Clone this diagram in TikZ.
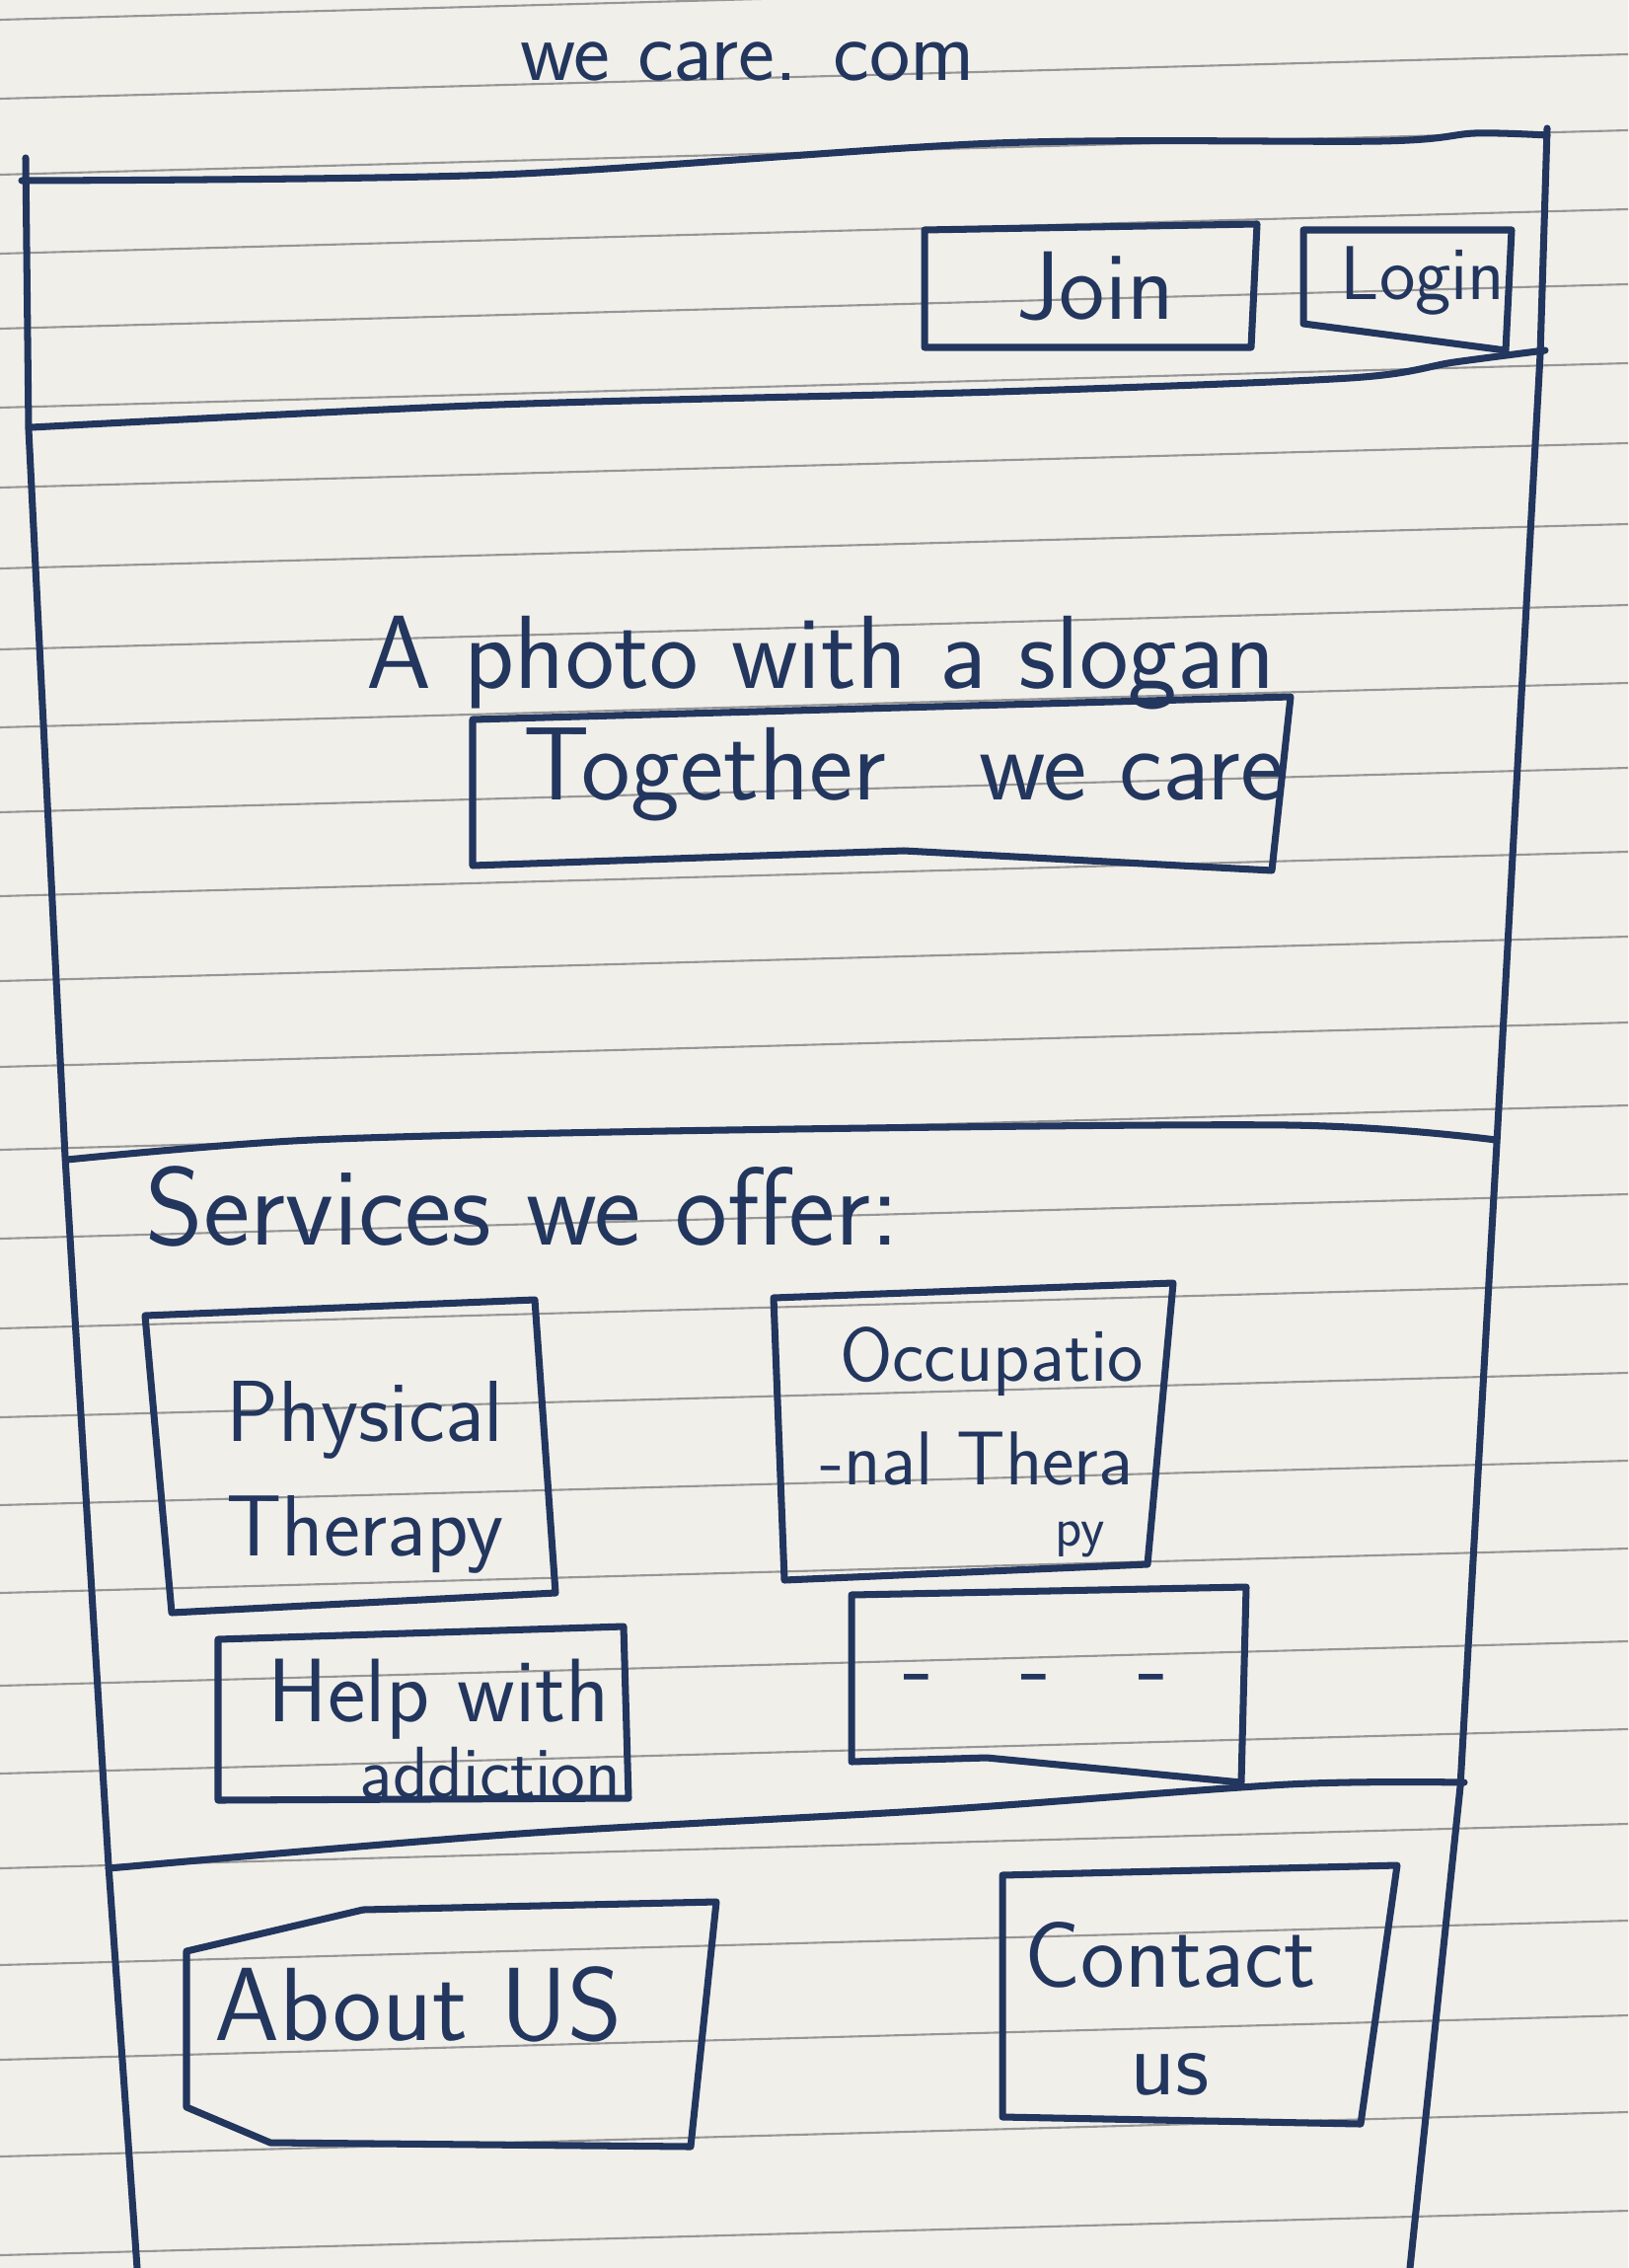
\documentclass[tikz,border=0pt]{standalone}
\usepackage{tikz}

\definecolor{ink}{RGB}{34,54,94}
\definecolor{paper}{RGB}{241,239,234}
\definecolor{ruling}{RGB}{150,150,150}

\begin{document}
\begin{tikzpicture}[x=0.01cm,y=-0.01cm,font=\sffamily,
  pen/.style={draw=ink,line width=2pt,line join=round,line cap=round},
  hand/.style={text=ink,inner sep=0pt,font=\sffamily\fontsize{#1}{#1}\selectfont}]
\useasboundingbox (0,0) rectangle (1650,2298);
\fill[paper] (0,0) rectangle (1650,2298);
% ruled paper
\foreach \y in {20,100,177,257,333,413,494,576,658,737,823,908,994,1081,1165,1255,1346,1436,1525,1614,1708,1797,1893,1991,2087,2185,2285}
  \draw[ruling,line width=0.6pt] (0,\y) -- (1650,\y-45);
% title
\node[hand=25] (title) at (758,62) {we care. com};
% page frame
\draw[pen] (26,160) -- (29,435) -- (66,1172) -- (110,1890) -- (139,2298);
\draw[pen] (1568,130) -- (1561,359) -- (1517,1158) -- (1480,1810) -- (1429,2298);
\draw[pen] plot[smooth] coordinates {(22,183) (505,177) (1010,145) (1400,143) (1495,135) (1568,137)};
\draw[pen] plot[smooth] coordinates {(32,433) (505,410) (1010,397) (1368,383) (1474,367) (1566,355)};
\draw[pen] plot[smooth] coordinates {(68,1175) (316,1155) (737,1145) (1305,1140) (1516,1155)};
\draw[pen] plot[smooth] coordinates {(110,1893) (526,1858) (947,1834) (1305,1808) (1484,1806)};
% header buttons
\draw[pen] (937,233) -- (1274,227) -- (1268,352) -- (937,352) -- cycle;
\node[hand=28] (join) at (1110,290) {Join};
\draw[pen] (1321,233) -- (1532,233) -- (1526,355) -- (1321,328) -- cycle;
\node[hand=22] (login) at (1442,285) {Login};
% photo
\node[hand=30] (photo) at (832,672) {A photo with a slogan};
\draw[pen] (479,729) -- (1308,706) -- (1289,882) -- (916,862) -- (479,877) -- cycle;
\node[hand=30] (slogan) at (916,785) {Together\hspace{0.9em}we care};
% services
\node[hand=32,anchor=west] (services) at (147,1222) {Services we offer:};
\draw[pen] (147,1333) -- (542,1317) -- (563,1614) -- (174,1634) -- cycle;
\node[hand=25,align=center,font=\sffamily\fontsize{25}{33}\selectfont] (physical) at (370,1497) {Physical\\Therapy};
\draw[pen] (784,1315) -- (1189,1300) -- (1163,1585) -- (795,1601) -- cycle;
\node[hand=22] (occ1) at (1005,1380) {Occupatio};
\node[hand=22] (occ2) at (990,1478) {-nal Thera};
\node[hand=16] (occ3) at (1095,1560) {py};
\draw[pen] (221,1661) -- (632,1648) -- (637,1822) -- (221,1824) -- cycle;
\node[hand=26] (help1) at (445,1722) {Help with};
\node[hand=21] (help2) at (497,1796) {addiction};
\draw[pen] (863,1616) -- (1263,1608) -- (1258,1806) -- (1000,1781) -- (863,1785) -- cycle;
\node[hand=28] (more) at (1050,1708) {-\hspace{0.9em}-\hspace{0.9em}-};
% footer
\draw[pen] (189,1977) -- (368,1935) -- (726,1927) -- (700,2175) -- (274,2171) -- (189,2135) -- cycle;
\node[hand=30] (about) at (424,2031) {About US};
\draw[pen] (1016,1900) -- (1416,1890) -- (1379,2152) -- (1016,2145) -- cycle;
\node[hand=27,align=center,font=\sffamily\fontsize{27}{31}\selectfont] (contact) at (1186,2035) {Contact\\us};
\end{tikzpicture}
\end{document}
